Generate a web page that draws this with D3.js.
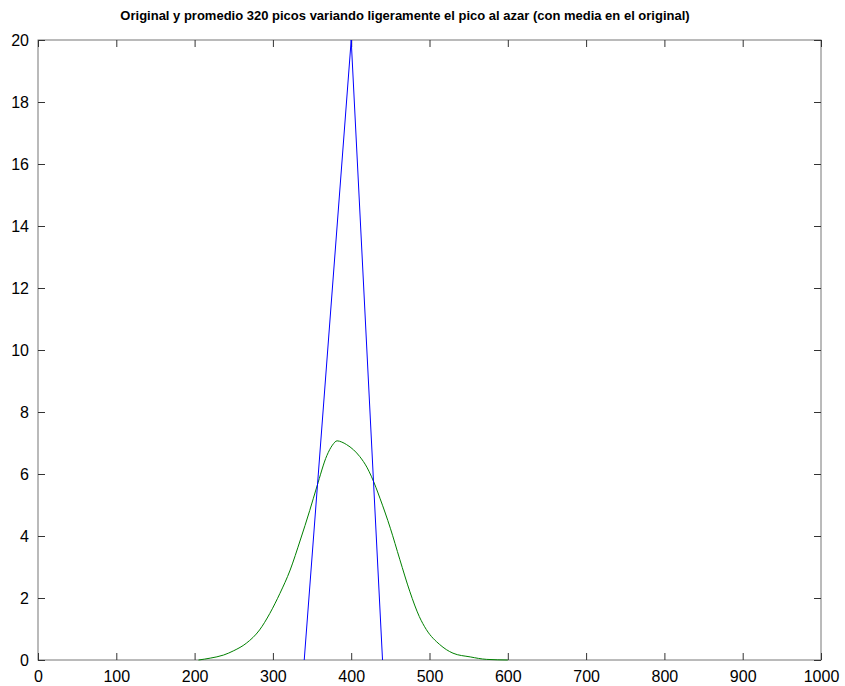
<!DOCTYPE html>
<html>
<head>
<meta charset="utf-8">
<script src="https://cdn.jsdelivr.net/npm/d3@7"></script>
<style>
  body { margin: 0; background: #fff; }
  svg text { font-family: "Liberation Sans", Arial, sans-serif; }
</style>
</head>
<body>
<svg id="chart" width="845" height="686"></svg>
<script>
// original peak (blue)
var origX = [340, 400, 440];
var origY = [0, 20, 0];

// average of 320 peaks (green)
var avgX = [205, 220, 237, 250, 266, 283, 296, 309, 322, 335, 347, 356, 369, 376, 382, 388, 394, 403, 411, 420, 426, 437, 450, 462, 475, 487, 496, 513, 530, 552, 573, 600];
var avgY = [0, 0.06, 0.16, 0.3, 0.54, 0.97, 1.5, 2.15, 2.9, 3.87, 4.82, 5.58, 6.6, 6.93, 7.07, 7.03, 6.95, 6.78, 6.56, 6.22, 5.91, 5.2, 4.25, 3.25, 2.2, 1.4, 0.98, 0.5, 0.22, 0.1, 0.02, 0];

var xTicks = [0, 100, 200, 300, 400, 500, 600, 700, 800, 900, 1000];
var yTicks = [0, 2, 4, 6, 8, 10, 12, 14, 16, 18, 20];

var titleText = "Original y promedio 320 picos variando ligeramente el pico al azar (con media en el original)";

var svg = d3.select("#chart");
var pLeft = 38, pRight = 821, pTop = 40, pBottom = 660;

var x = d3.scaleLinear().domain([0, 1000]).range([pLeft, pRight]);
var y = d3.scaleLinear().domain([0, 20]).range([pBottom, pTop]);

// frame
svg.append("rect")
    .attr("x", pLeft).attr("y", pTop)
    .attr("width", pRight - pLeft).attr("height", pBottom - pTop)
    .style("fill", "none").style("stroke", "#777").style("stroke-width", 1);

// inward ticks on all four sides
var tl = 7;
var fmt = d3.format("d");
svg.append("g").attr("transform", "translate(0," + pBottom + ")")
    .call(d3.axisBottom(x).tickValues(xTicks).tickSizeInner(-tl).tickSizeOuter(0).tickPadding(tl + 4).tickFormat(fmt))
    .call(styleAxis);
svg.append("g").attr("transform", "translate(0," + pTop + ")")
    .call(d3.axisTop(x).tickValues(xTicks).tickSizeInner(-tl).tickSizeOuter(0).tickFormat(""))
    .call(styleAxis);
svg.append("g").attr("transform", "translate(" + pLeft + ",0)")
    .call(d3.axisLeft(y).tickValues(yTicks).tickSizeInner(-tl).tickSizeOuter(0).tickPadding(tl + 2).tickFormat(fmt))
    .call(styleAxis);
svg.append("g").attr("transform", "translate(" + pRight + ",0)")
    .call(d3.axisRight(y).tickValues(yTicks).tickSizeInner(-tl).tickSizeOuter(0).tickFormat(""))
    .call(styleAxis);

function styleAxis(g) {
    g.select(".domain").remove();
    g.selectAll(".tick line").style("stroke", "#333");
    g.selectAll("text").style("font-size", "16px").style("fill", "#000");
}

var line = d3.line()
    .x(function(d) { return x(d[0]); })
    .y(function(d) { return y(d[1]); });

svg.append("path")
    .attr("d", line.curve(d3.curveMonotoneX)(d3.zip(avgX, avgY)))
    .style("fill", "none").style("stroke", "#008000").style("stroke-width", 1);

svg.append("path")
    .attr("d", line.curve(d3.curveLinear)(d3.zip(origX, origY)))
    .style("fill", "none").style("stroke", "#0000ff").style("stroke-width", 1);

svg.append("text")
    .attr("x", 405).attr("y", 20)
    .attr("text-anchor", "middle")
    .style("font-size", "13px").style("font-weight", "bold")
    .text(titleText);
</script>
</body>
</html>
